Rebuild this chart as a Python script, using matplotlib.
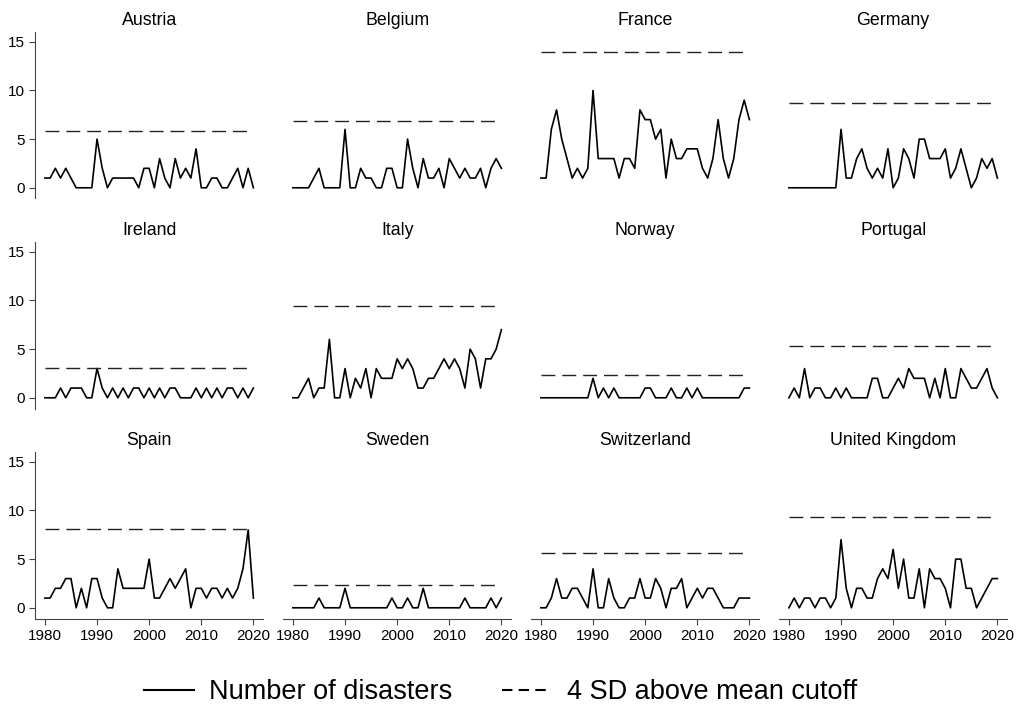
import matplotlib.pyplot as plt
from matplotlib.lines import Line2D
import numpy as np

plt.rcParams['font.family'] = ['Liberation Sans', 'DejaVu Sans']

years = np.arange(1980, 2021)
cutoff_years = np.arange(1980, 2020)

countries = ['Austria', 'Belgium', 'France', 'Germany',
             'Ireland', 'Italy', 'Norway', 'Portugal',
             'Spain', 'Sweden', 'Switzerland', 'United Kingdom']

austria = [1, 1, 2, 1, 2, 1, 0, 0, 0, 0, 5, 2, 0, 1, 1, 1, 1, 1, 0, 2,
           2, 0, 3, 1, 0, 3, 1, 2, 1, 4, 0, 0, 1, 1, 0, 0, 1, 2, 0, 2, 0]
belgium = [0, 0, 0, 0, 1, 2, 0, 0, 0, 0, 6, 0, 0, 2, 1, 1, 0, 0, 2, 2,
           0, 0, 5, 2, 0, 3, 1, 1, 2, 0, 3, 2, 1, 2, 1, 1, 2, 0, 2, 3, 2]
france = [1, 1, 6, 8, 5, 3, 1, 2, 1, 2, 10, 3, 3, 3, 3, 1, 3, 3, 2, 8,
          7, 7, 5, 6, 1, 5, 3, 3, 4, 4, 4, 2, 1, 3, 7, 3, 1, 3, 7, 9, 7]
germany = [0, 0, 0, 0, 0, 0, 0, 0, 0, 0, 6, 1, 1, 3, 4, 2, 1, 2, 1, 4,
           0, 1, 4, 3, 1, 5, 5, 3, 3, 3, 4, 1, 2, 4, 2, 0, 1, 3, 2, 3, 1]
ireland = [0, 0, 0, 1, 0, 1, 1, 1, 0, 0, 3, 1, 0, 1, 0, 1, 0, 1, 1, 0,
           1, 0, 1, 0, 1, 1, 0, 0, 0, 1, 0, 1, 0, 1, 0, 1, 1, 0, 1, 0, 1]
italy = [0, 0, 1, 2, 0, 1, 1, 6, 0, 0, 3, 0, 2, 1, 3, 0, 3, 2, 2, 2,
         4, 3, 4, 3, 1, 1, 2, 2, 3, 4, 3, 4, 3, 1, 5, 4, 1, 4, 4, 5, 7]
norway = [0, 0, 0, 0, 0, 0, 0, 0, 0, 0, 2, 0, 1, 0, 1, 0, 0, 0, 0, 0,
          1, 1, 0, 0, 0, 1, 0, 0, 1, 0, 1, 0, 0, 0, 0, 0, 0, 0, 0, 1, 1]
portugal = [0, 1, 0, 3, 0, 1, 1, 0, 0, 1, 0, 1, 0, 0, 0, 0, 2, 2, 0, 0,
            1, 2, 1, 3, 2, 2, 2, 0, 2, 0, 3, 0, 0, 3, 2, 1, 1, 2, 3, 1, 0]
spain = [1, 1, 2, 2, 3, 3, 0, 2, 0, 3, 3, 1, 0, 0, 4, 2, 2, 2, 2, 2,
         5, 1, 1, 2, 3, 2, 3, 4, 0, 2, 2, 1, 2, 2, 1, 2, 1, 2, 4, 8, 1]
sweden = [0, 0, 0, 0, 0, 1, 0, 0, 0, 0, 2, 0, 0, 0, 0, 0, 0, 0, 0, 1,
          0, 0, 1, 0, 0, 2, 0, 0, 0, 0, 0, 0, 0, 1, 0, 0, 0, 0, 1, 0, 1]
switzerland = [0, 0, 1, 3, 1, 1, 2, 2, 1, 0, 4, 0, 0, 3, 1, 0, 0, 1, 1, 3,
               1, 1, 3, 2, 0, 2, 2, 3, 0, 1, 2, 1, 2, 2, 1, 0, 0, 0, 1, 1, 1]
uk = [0, 1, 0, 1, 1, 0, 1, 1, 0, 1, 7, 2, 0, 2, 2, 1, 1, 3, 4, 3,
      6, 2, 5, 1, 1, 4, 0, 4, 3, 3, 2, 0, 5, 5, 2, 2, 0, 1, 2, 3, 3]

series = [austria, belgium, france, germany, ireland, italy,
          norway, portugal, spain, sweden, switzerland, uk]
cutoffs = [5.8, 6.85, 13.95, 8.75, 3.05, 9.45, 2.3, 5.35, 8.1, 2.35, 5.6, 9.35]

W, H = 1022, 708
fig = plt.figure(figsize=(W / 100, H / 100), dpi=100)

for k, name in enumerate(countries):
    r, c = divmod(k, 4)
    left = 35 + 248 * c
    top = 31.5 + 210 * r
    ax = fig.add_axes([left / W, 1 - (top + 167) / H, 228.3 / W, 167 / H])

    ax.plot(years, series[k], color='black', lw=1.2)
    ax.plot(cutoff_years, [cutoffs[k]] * len(cutoff_years), color='#222222',
            lw=1.0, dashes=(10, 5))

    ax.set_xlim(1978.1, 2021.9)
    ax.set_ylim(-1.1, 16.05)
    ax.set_title(name, fontsize=12.8, pad=5)

    for s in ['top', 'right']:
        ax.spines[s].set_visible(False)
    ax.spines['left'].set_color('#444444')
    ax.spines['bottom'].set_color('#444444')

    if c == 0:
        ax.set_yticks([0, 5, 10, 15])
        ax.tick_params(axis='y', labelsize=11, length=4, color='#444444')
    else:
        ax.spines['left'].set_visible(False)
        ax.set_yticks([])
    if r == 2:
        ax.set_xticks([1980, 1990, 2000, 2010, 2020])
        ax.tick_params(axis='x', labelsize=11, length=4, color='#444444')
    else:
        ax.spines['bottom'].set_visible(False)
        ax.set_xticks([])

handles = [Line2D([], [], color='black', lw=1.5),
           Line2D([], [], color='black', lw=1.5, dashes=(5, 3))]
fig.legend(handles, ['Number of disasters', '4 SD above mean cutoff'],
           loc='center', bbox_to_anchor=(0.49, 1 - 692 / H), ncol=2,
           frameon=False, fontsize=19.5, handlelength=1.85,
           handletextpad=0.55, columnspacing=1.85)

fig.savefig('out.png', dpi=100)
